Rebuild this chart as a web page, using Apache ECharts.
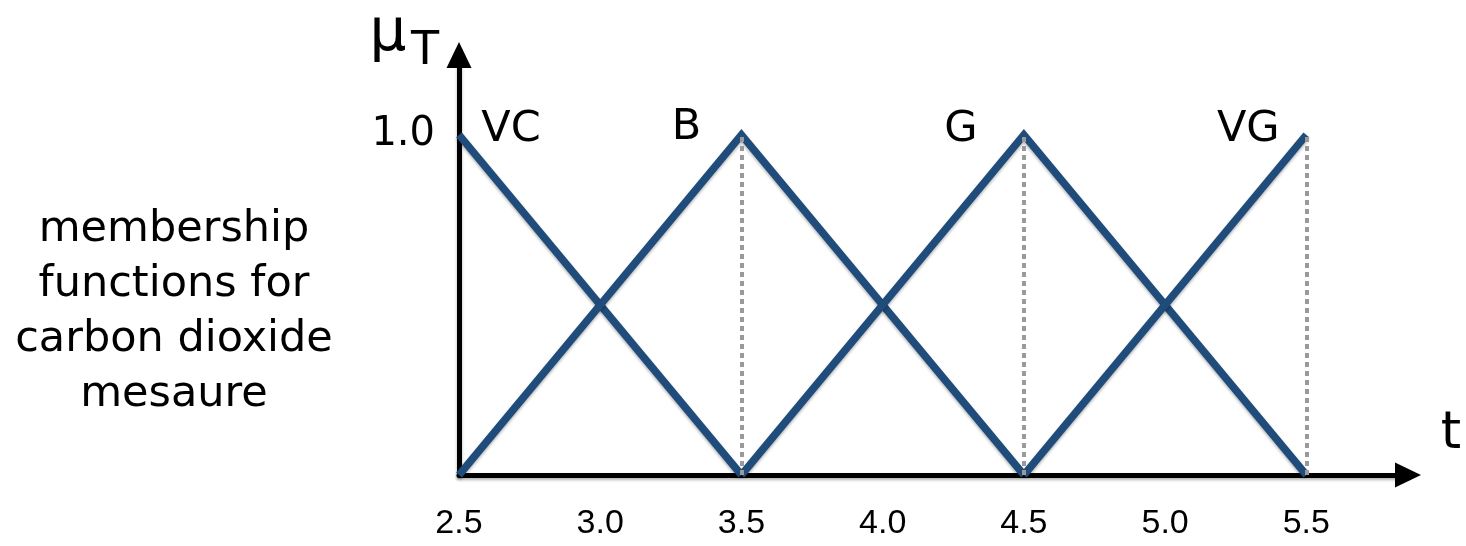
<!DOCTYPE html>
<html>
<head>
<meta charset="utf-8">
<title>membership functions</title>
<script src="https://cdn.jsdelivr.net/npm/echarts@6/dist/echarts.min.js"></script>
<style>
html, body { margin: 0; padding: 0; background: #fff; }
#main { width: 1466px; height: 546px; }
</style>
</head>
<body>
<div id="main"></div>
<script>
// membership function break points [t, mu]
var setNames = ['VC', 'B', 'G', 'VG'];
var vcPoints = [[2.5, 1], [3.5, 0]];
var bPoints = [[2.5, 0], [3.5, 1], [4.5, 0]];
var gPoints = [[3.5, 0], [4.5, 1], [5.5, 0]];
var vgPoints = [[4.5, 0], [5.5, 1]];
var peaks = [[2.5, 1], [3.5, 1], [4.5, 1], [5.5, 1]];
var dropX = [3.5, 4.5, 5.5];
var xTicks = [2.5, 3.0, 3.5, 4.0, 4.5, 5.0, 5.5];
var yTicks = [1.0];

var comic = '"DejaVu Sans", sans-serif';
var blue = '#1f4c7a';
var labelOffsets = [[52, -5], [-55, -7], [-63, -5], [-58, -5]];

var myChart = echarts.init(document.getElementById('main'));

function fnSeries(name, pts, idx) {
    return {
        name: name,
        type: 'line',
        data: pts,
        symbol: 'none',
        z: 2,
        lineStyle: {
            color: blue,
            width: 7.5,
            join: 'miter',
            shadowColor: 'rgba(0,0,0,0.3)',
            shadowBlur: 3,
            shadowOffsetY: 2
        },
        markPoint: {
            symbol: 'circle',
            symbolSize: 1,
            itemStyle: { color: 'rgba(0,0,0,0)' },
            label: {
                show: true,
                position: 'inside',
                formatter: name,
                offset: labelOffsets[idx],
                fontFamily: comic,
                fontSize: 43,
                color: '#000'
            },
            data: [{ coord: peaks[idx] }]
        }
    };
}

var series = [
    fnSeries(setNames[0], vcPoints, 0),
    fnSeries(setNames[1], bPoints, 1),
    fnSeries(setNames[2], gPoints, 2),
    fnSeries(setNames[3], vgPoints, 3)
];

// dotted drop lines from the peaks
series.push({
    type: 'line',
    data: [],
    z: 3,
    markLine: {
        silent: true,
        symbol: 'none',
        label: { show: false },
        lineStyle: { color: '#9a9a9a', width: 4, type: [5, 4] },
        data: dropX.map(function (x) {
            return [{ coord: [x, 0] }, { coord: [x, 1] }];
        })
    }
});

var axisLineStyle = {
    color: '#000',
    width: 5,
    shadowColor: 'rgba(0,0,0,0.3)',
    shadowBlur: 3,
    shadowOffsetY: 2
};

option = {
    animation: false,
    grid: { left: 459, right: 58, top: 55, bottom: 71 },
    xAxis: {
        type: 'value',
        min: 2.5,
        max: 5.86,
        interval: 0.5,
        splitLine: { show: false },
        axisTick: { show: false },
        axisLine: { lineStyle: axisLineStyle, symbol: ['none', 'triangle'], symbolSize: [25, 26] },
        axisLabel: {
            margin: 32,
            fontFamily: '"Liberation Sans", Arial, sans-serif',
            fontSize: 34,
            color: '#000',
            showMaxLabel: false,
            formatter: function (v) {
                return xTicks.indexOf(Math.round(v * 10) / 10) >= 0 ? v.toFixed(1) : '';
            }
        }
    },
    yAxis: {
        type: 'value',
        min: 0,
        max: 1.235,
        interval: 1,
        splitLine: { show: false },
        axisTick: { show: false },
        axisLine: { lineStyle: axisLineStyle, symbol: ['none', 'triangle'], symbolSize: [25, 26] },
        axisLabel: {
            margin: 24,
            fontFamily: comic,
            fontSize: 40,
            color: '#000',
            formatter: function (v) {
                return yTicks.indexOf(v) >= 0 ? v.toFixed(1) : '';
            }
        }
    },
    graphic: [
        {
            type: 'text', x: 174, y: 312,
            style: {
                text: 'membership\nfunctions for\ncarbon dioxide\nmesaure',
                align: 'center', verticalAlign: 'middle',
                lineHeight: 55,
                font: '43px ' + comic,
                fill: '#000'
            }
        },
        {
            type: 'text', x: 388, y: 35,
            style: { text: 'μ', align: 'center', verticalAlign: 'middle', font: '58px ' + comic, fill: '#000' }
        },
        {
            type: 'text', x: 425, y: 52,
            style: { text: 'T', align: 'center', verticalAlign: 'middle', font: '46px ' + comic, fill: '#000' }
        },
        {
            type: 'text', x: 1451, y: 434,
            style: { text: 't', align: 'center', verticalAlign: 'middle', font: '52px ' + comic, fill: '#000' }
        }
    ],
    series: series
};
myChart.setOption(option);
</script>
</body>
</html>
